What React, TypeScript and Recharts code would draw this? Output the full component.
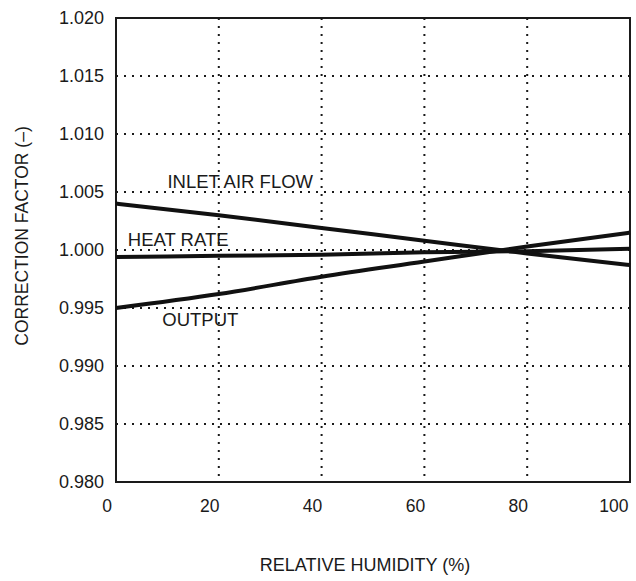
import React from 'react';
import {
  LineChart,
  Line,
  XAxis,
  YAxis,
  CartesianGrid,
  ReferenceArea,
  ReferenceDot,
} from 'recharts';

// Relative humidity (%) sample points
const humidity = [0, 20, 40, 60, 80, 100];
const inletAirFlow = [1.004, 1.003, 1.0019, 1.0008, 0.9997, 0.9987];
const heatRate = [0.9994, 0.9995, 0.9996, 0.9998, 0.9999, 1.0001];
const output = [0.995, 0.9962, 0.9977, 0.999, 1.0003, 1.0015];

const xTicks = [0, 20, 40, 60, 80, 100];
const yTicks = [0.98, 0.985, 0.99, 0.995, 1.0, 1.005, 1.01, 1.015, 1.02];

// Curve captions, anchored in data coordinates (left end of the text)
const captionText = ['INLET AIR FLOW', 'HEAT RATE', 'OUTPUT'];
const captionX = [10, 2.3, 9];
const captionY = [1.0059, 1.0009, 0.99405];

const data = humidity.map((h, i) => ({
  h,
  inlet: inletAirFlow[i],
  heat: heatRate[i],
  out: output[i],
}));

const FONT = '"Liberation Sans", Arial, sans-serif';
const INK = '#1a1a1a';

const Caption = (text: string) => (props: any) => (
  <text
    x={props.cx}
    y={props.cy}
    fontFamily={FONT}
    fontSize={18.5}
    fill={INK}
    dominantBaseline="central"
  >
    {text}
  </text>
);

const YTitle = (props: any) => {
  const vb = props.viewBox;
  const cx = 22;
  const cy = vb.y + vb.height / 2 - 14;
  return (
    <text
      x={cx}
      y={cy}
      transform={`rotate(-90, ${cx}, ${cy})`}
      textAnchor="middle"
      dominantBaseline="central"
      fontFamily={FONT}
      fontSize={17.5}
      fill={INK}
    >
      CORRECTION FACTOR (–)
    </text>
  );
};

export default function App() {
  return (
    <div style={{ position: 'absolute', left: 0, top: 0, width: 636, height: 581, background: '#fff' }}>
      <LineChart
        width={636}
        height={581}
        data={data}
        margin={{ top: 18, right: 6, bottom: 0, left: 0 }}
      >
        <CartesianGrid stroke={INK} strokeWidth={2} strokeDasharray="2 6" />
        <XAxis
          dataKey="h"
          type="number"
          domain={[0, 100]}
          ticks={xTicks}
          height={99}
          tickSize={0}
          tickMargin={18}
          axisLine={false}
          tick={{ fontFamily: FONT, fontSize: 17.5, fill: INK, dx: -9 }}
          label={{
            value: 'RELATIVE HUMIDITY (%)',
            position: 'insideBottom',
            offset: 10,
            dx: -8,
            fontFamily: FONT,
            fontSize: 18,
            fill: INK,
          }}
        />
        <YAxis
          type="number"
          domain={[0.98, 1.02]}
          ticks={yTicks}
          width={116}
          tickSize={0}
          tickMargin={12}
          axisLine={false}
          tickFormatter={(v: number) => v.toFixed(3)}
          tick={{ fontFamily: FONT, fontSize: 18, fill: INK }}
          label={{ content: YTitle }}
        />
        <ReferenceArea
          x1={0}
          x2={100}
          y1={0.98}
          y2={1.02}
          fill="none"
          stroke={INK}
          strokeWidth={2}
          fillOpacity={0}
        />
        <Line type="monotone" dataKey="inlet" stroke="#111" strokeWidth={4} dot={false} isAnimationActive={false} />
        <Line type="monotone" dataKey="heat" stroke="#111" strokeWidth={4} dot={false} isAnimationActive={false} />
        <Line type="monotone" dataKey="out" stroke="#111" strokeWidth={4} dot={false} isAnimationActive={false} />
        {captionText.map((t, i) => (
          <ReferenceDot key={t} x={captionX[i]} y={captionY[i]} r={0} shape={Caption(t)} />
        ))}
      </LineChart>
    </div>
  );
}
